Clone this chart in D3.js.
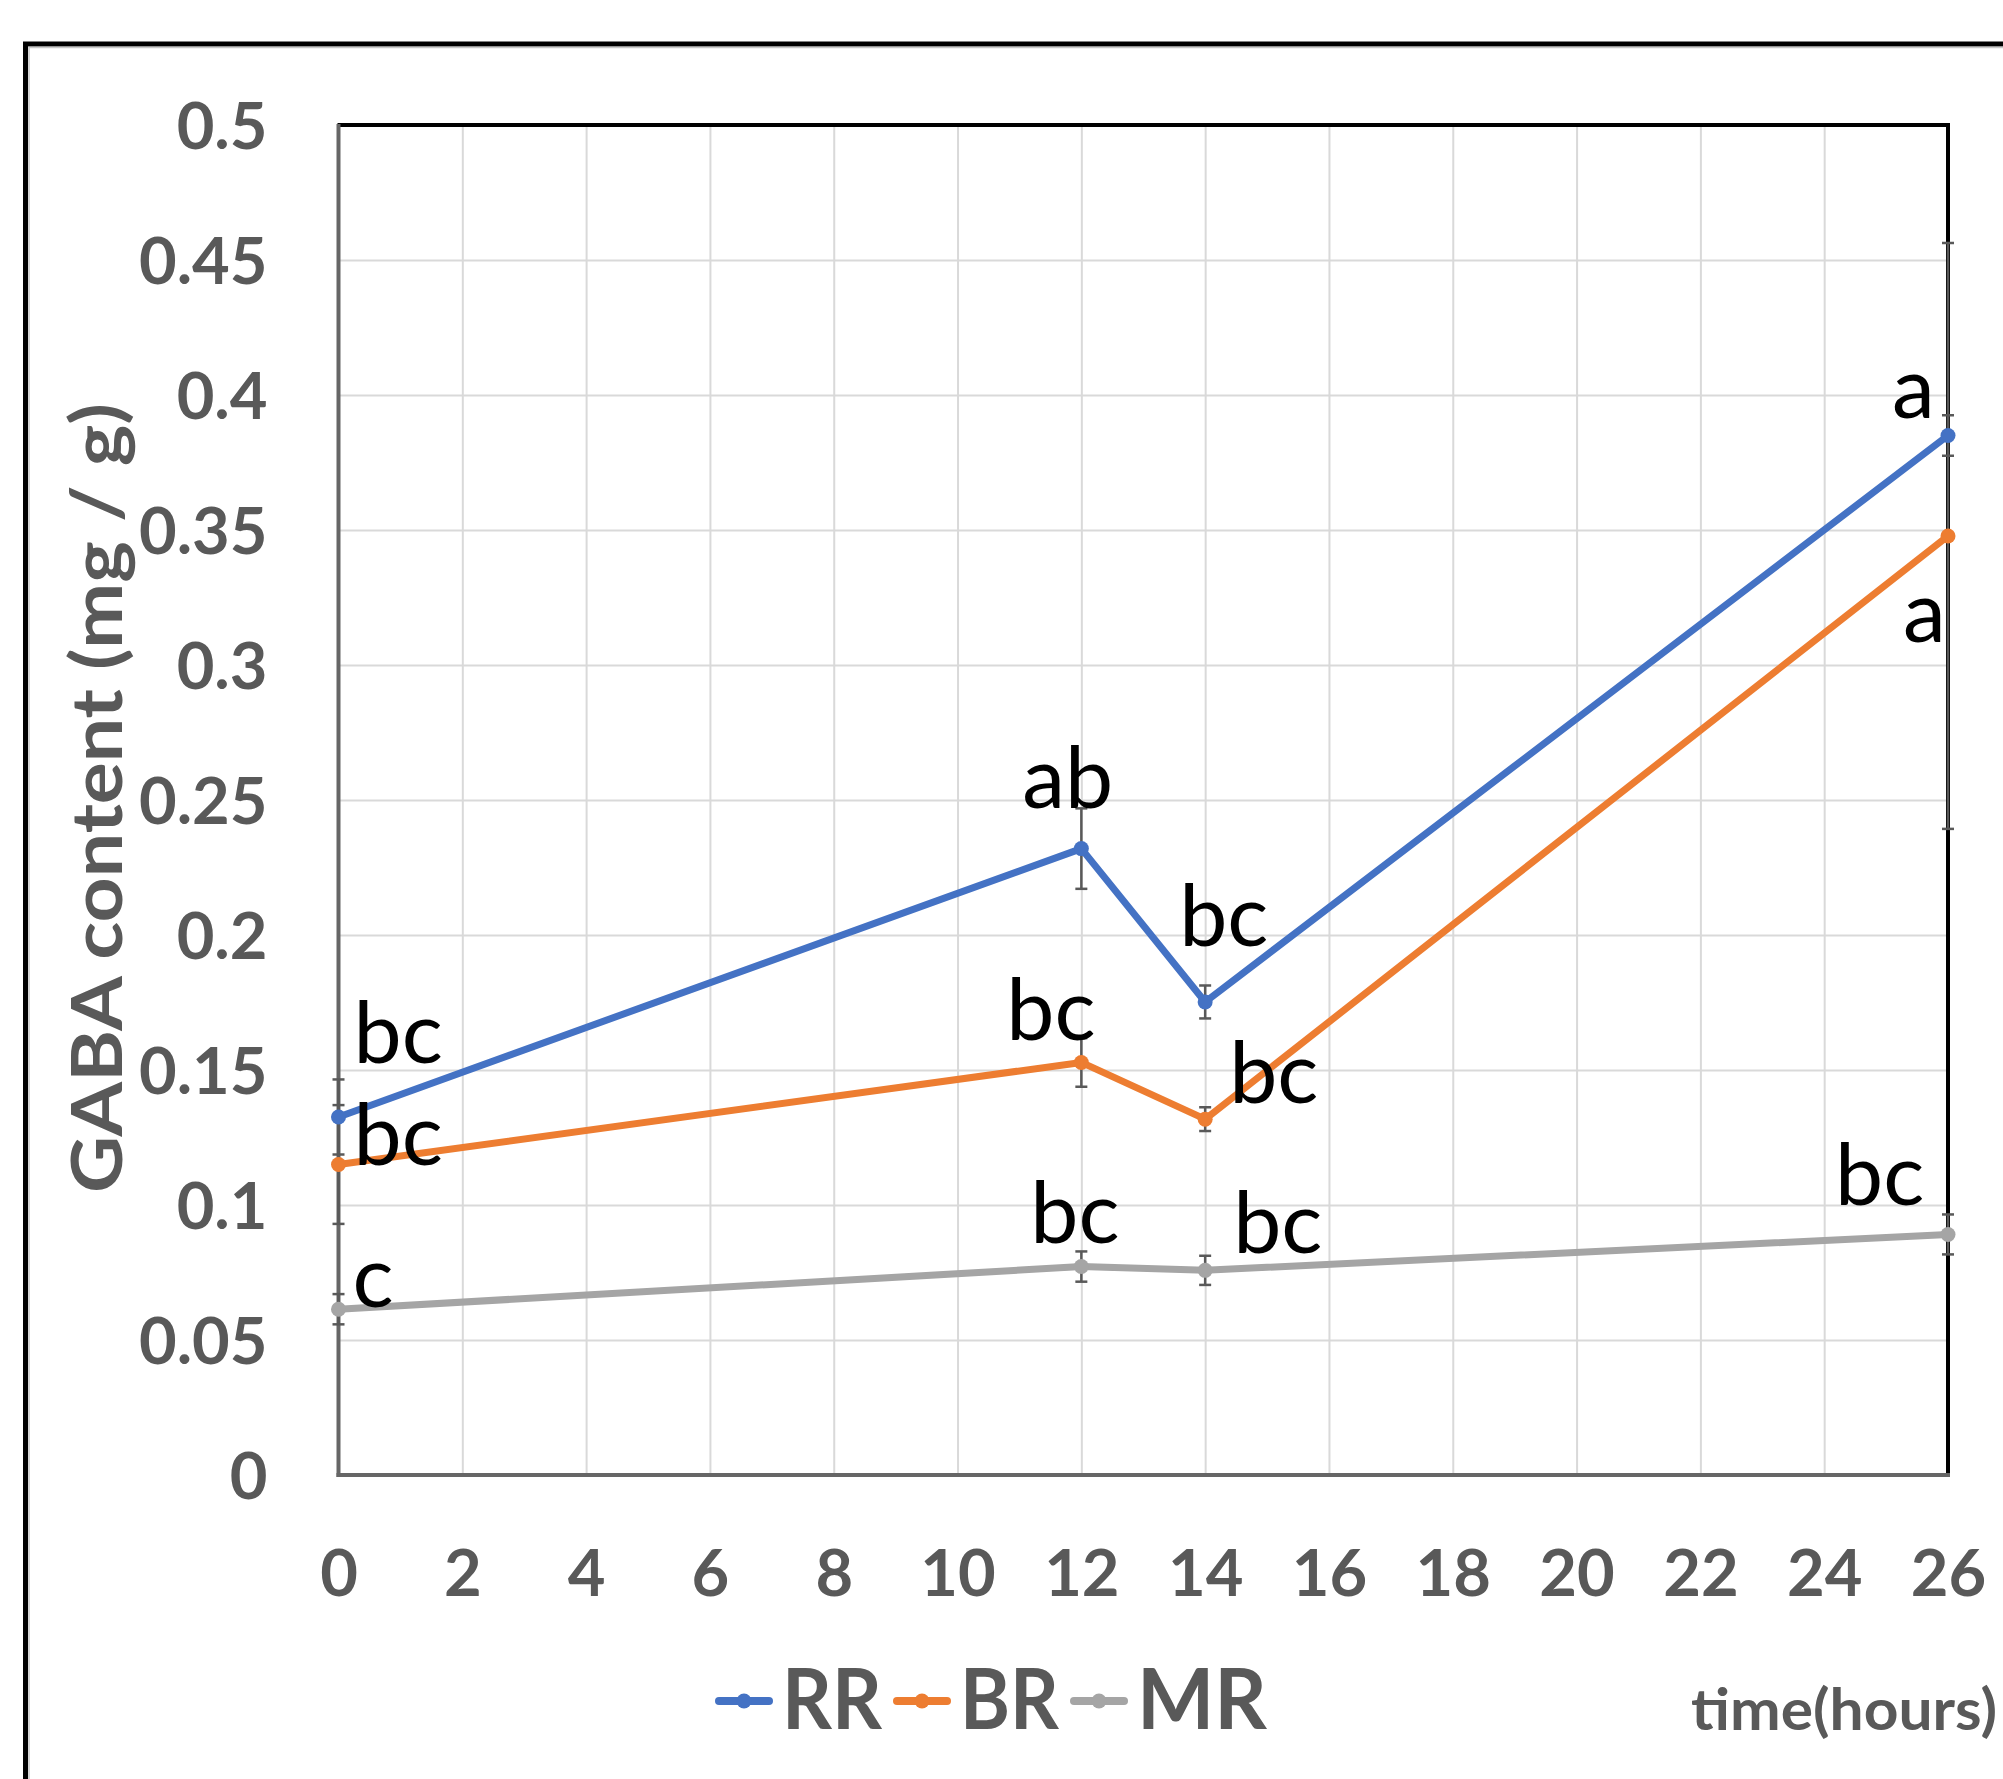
<!DOCTYPE html>
<html>
<head>
<meta charset="utf-8">
<script src="https://cdn.jsdelivr.net/npm/d3@7"></script>
<style>
  html, body { margin: 0; padding: 0; background: #fff; }
  svg { display: block; }
</style>
</head>
<body>
<script>
// ---------------- data ----------------
const hours = [0, 12, 14, 26];
const seriesNames = ["RR", "BR", "MR"];
const rrValues = [0.1326, 0.2320, 0.1752, 0.3850];
const brValues = [0.1150, 0.1528, 0.1318, 0.3478];
const mrValues = [0.0614, 0.0772, 0.0758, 0.0891];
const rrErrors = [0.0139, 0.0149, 0.0061, 0.0075];
const brErrors = [0.0220, 0.0090, 0.0044, 0.1085];
const mrErrors = [0.0056, 0.0056, 0.0054, 0.0074];
const rrLetters = ["bc", "ab", "bc", "a"];
const brLetters = ["bc", "bc", "bc", "a"];
const mrLetters = ["c", "bc", "bc", "bc"];
const xTickValues = [0, 2, 4, 6, 8, 10, 12, 14, 16, 18, 20, 22, 24, 26];
const xTickLabels = ["0", "2", "4", "6", "8", "10", "12", "14", "16", "18", "20", "22", "24", "26"];
const yTickValues = [0, 0.05, 0.1, 0.15, 0.2, 0.25, 0.3, 0.35, 0.4, 0.45, 0.5];
const yTickLabels = ["0", "0.05", "0.1", "0.15", "0.2", "0.25", "0.3", "0.35", "0.4", "0.45", "0.5"];
const yTitle = "GABA content (mg / g)";
const xTitle = "time(hours)";

// ---------------- layout / style ----------------
const W = 2003, H = 1779;
const L = 338.5, R = 1948, T = 125, B = 1475;
const colors = ["#4472C4", "#ED7D31", "#A5A5A5"];
const textGray = "#595959";
const font = "Lato, 'Open Sans', sans-serif";
// label offsets (px) from the point position: [dx (left edge), dy (baseline)]
const labelOffsets = [
  [[15, -54], [-59, -41], [-26, -56], [-56, -18]],
  [[15, 0], [-75, -22], [24, -16], [-45, 106]],
  [[14, -2], [-51, -24], [28, -17], [-113, -29]]
];
const legendX = [715, 893, 1070];
const legendTextW = [100, 99, 130];

const series = [
  { name: seriesNames[0], values: rrValues, errors: rrErrors, letters: rrLetters },
  { name: seriesNames[1], values: brValues, errors: brErrors, letters: brLetters },
  { name: seriesNames[2], values: mrValues, errors: mrErrors, letters: mrLetters }
];

const x = d3.scaleLinear().domain([0, 26]).range([L, R]);
const y = d3.scaleLinear().domain([0, 0.5]).range([B, T]);

const svg = d3.select("body").append("svg")
  .attr("width", W).attr("height", H)
  .attr("viewBox", `0 0 ${W} ${H}`);

svg.append("rect").attr("width", W).attr("height", H).attr("fill", "#fff");

// outer border (extends beyond the right/bottom edges)
svg.append("rect")
  .attr("x", 25.5).attr("y", 44).attr("width", 2100).attr("height", 2000)
  .attr("fill", "none").attr("stroke", "#000").attr("stroke-width", 5);
svg.append("path")
  .attr("d", `M29,${H + 10}V47.5H${W + 10}`)
  .attr("fill", "none").attr("stroke", "#c8c8c8").attr("stroke-width", 1.5);

// gridlines
svg.append("g")
  .attr("transform", `translate(${L},0)`)
  .call(d3.axisLeft(y).tickValues(yTickValues).tickSize(-(R - L)).tickFormat(""))
  .call(g => g.select(".domain").remove())
  .call(g => g.selectAll("line").attr("stroke", "#d9d9d9").attr("stroke-width", 2));
svg.append("g")
  .attr("transform", `translate(0,${B})`)
  .call(d3.axisBottom(x).tickValues(xTickValues).tickSize(-(B - T)).tickFormat(""))
  .call(g => g.select(".domain").remove())
  .call(g => g.selectAll("line").attr("stroke", "#d9d9d9").attr("stroke-width", 2));

// y tick labels
svg.append("g")
  .attr("transform", `translate(${L},0)`)
  .call(d3.axisLeft(y).tickValues(yTickValues).tickSize(0).tickPadding(71)
    .tickFormat((d, i) => yTickLabels[i]))
  .call(g => g.select(".domain").remove())
  .call(g => g.selectAll("text")
    .attr("fill", textGray).attr("font-family", font).attr("font-weight", 700)
    .attr("font-size", 65).attr("dy", "0.36em"));

// x tick labels
svg.append("g")
  .attr("transform", `translate(0,${B})`)
  .call(d3.axisBottom(x).tickValues(xTickValues).tickSize(0)
    .tickFormat((d, i) => xTickLabels[i]))
  .call(g => g.select(".domain").remove())
  .call(g => g.selectAll("text")
    .attr("fill", textGray).attr("font-family", font).attr("font-weight", 700)
    .attr("font-size", 65).attr("y", 120.5).attr("dy", 0));

// frame: top & right black, left & bottom gray axes
svg.append("line").attr("x1", L - 1).attr("x2", R + 2).attr("y1", T).attr("y2", T)
  .attr("stroke", "#000").attr("stroke-width", 4);
svg.append("line").attr("x1", R).attr("x2", R).attr("y1", T - 2).attr("y2", B + 2)
  .attr("stroke", "#000").attr("stroke-width", 4);
svg.append("line").attr("x1", L).attr("x2", L).attr("y1", T - 1).attr("y2", B + 2)
  .attr("stroke", "#666").attr("stroke-width", 4);
svg.append("line").attr("x1", L - 2).attr("x2", R + 2).attr("y1", B).attr("y2", B)
  .attr("stroke", "#666").attr("stroke-width", 4);

// error bars
series.forEach(s => {
  const g = svg.append("g").attr("stroke", "#595959").attr("stroke-width", 2.5);
  hours.forEach((h, i) => {
    const cx = x(h), lo = y(s.values[i] - s.errors[i]), hi = y(s.values[i] + s.errors[i]);
    g.append("line").attr("x1", cx).attr("x2", cx).attr("y1", lo).attr("y2", hi);
    g.append("line").attr("x1", cx - 6).attr("x2", cx + 6).attr("y1", lo).attr("y2", lo);
    g.append("line").attr("x1", cx - 6).attr("x2", cx + 6).attr("y1", hi).attr("y2", hi);
  });
});

// lines and markers
const lineGen = d3.line().x((d, i) => x(hours[i])).y(d => y(d));
series.forEach((s, si) => {
  svg.append("path").datum(s.values)
    .attr("d", lineGen)
    .attr("fill", "none").attr("stroke", colors[si]).attr("stroke-width", 7)
    .attr("stroke-linejoin", "round").attr("stroke-linecap", "round");
  svg.append("g").selectAll("circle").data(s.values).join("circle")
    .attr("cx", (d, i) => x(hours[i])).attr("cy", d => y(d)).attr("r", 7.5)
    .attr("fill", colors[si]);
});

// significance letters
series.forEach((s, si) => {
  svg.append("g").selectAll("text").data(s.letters).join("text")
    .attr("x", (d, i) => x(hours[i]) + labelOffsets[si][i][0])
    .attr("y", (d, i) => y(s.values[i]) + labelOffsets[si][i][1])
    .attr("font-family", font).attr("font-size", 86).attr("fill", "#000")
    .text(d => d);
});

// y axis title
svg.append("text")
  .attr("transform", "translate(122,798) rotate(-90)")
  .attr("text-anchor", "middle")
  .attr("font-family", font).attr("font-weight", 700).attr("font-size", 70)
  .attr("fill", textGray)
  .attr("textLength", 790).attr("lengthAdjust", "spacingAndGlyphs")
  .text(yTitle);

// x axis title
svg.append("text")
  .attr("x", 1691).attr("y", 1730)
  .attr("font-family", font).attr("font-weight", 700).attr("font-size", 57)
  .attr("fill", textGray)
  .attr("textLength", 306).attr("lengthAdjust", "spacingAndGlyphs")
  .text(xTitle);

// legend
const lg = svg.append("g");
series.forEach((s, si) => {
  const lx = legendX[si], ly = 1701;
  lg.append("line").attr("x1", lx + 4).attr("x2", lx + 54).attr("y1", ly).attr("y2", ly)
    .attr("stroke", colors[si]).attr("stroke-width", 8).attr("stroke-linecap", "round");
  lg.append("circle").attr("cx", lx + 29).attr("cy", ly).attr("r", 7.5).attr("fill", colors[si]);
  lg.append("text").attr("x", lx + 67).attr("y", 1729)
    .attr("font-family", font).attr("font-weight", 700).attr("font-size", 85)
    .attr("fill", textGray)
    .attr("textLength", legendTextW[si]).attr("lengthAdjust", "spacingAndGlyphs")
    .text(s.name);
});
</script>
</body>
</html>
